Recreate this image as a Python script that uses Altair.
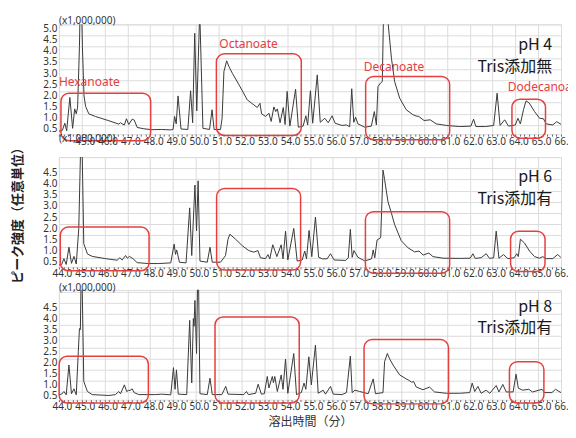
import altair as alt
import pandas as pd

# ---------------- data (retention time in min, intensity x1,000,000) ----------------
# Panel 1: pH 4, Tris 添加無
t1 = [44.00, 44.15, 44.26, 44.34, 44.48, 44.60, 44.69, 44.76, 44.82, 44.90, 44.96, 45.03, 45.10, 45.17,
      45.31, 45.60, 46.19, 46.62, 46.70, 46.77, 46.87, 46.96, 47.06, 47.21, 47.30, 47.43, 47.72, 48.08,
      48.50, 48.90, 49.00, 49.07, 49.14, 49.22, 49.35, 49.65, 49.77, 49.86, 49.95, 50.04, 50.17, 50.31,
      50.60, 50.71, 50.80, 51.08, 51.15, 51.23, 51.35, 51.45, 51.60, 51.89, 52.25, 52.69, 52.81, 52.88,
      53.06, 53.20, 53.30, 53.42, 53.50, 53.57, 53.69, 53.83, 53.91, 54.00, 54.12, 54.37, 54.49, 54.70,
      54.82, 54.90, 55.02, 55.12, 55.32, 55.45, 55.65, 55.80, 55.97, 56.10, 56.40, 56.60, 56.74, 56.83,
      56.92, 57.00, 57.10, 57.40, 57.69, 57.82, 57.91, 57.98, 58.09, 58.17, 58.25, 58.42, 58.57, 58.71,
      58.93, 59.22, 59.51, 59.65, 59.77, 60.00, 60.27, 60.53, 60.97, 61.56, 62.05, 62.17, 62.27, 62.70,
      63.05, 63.20, 63.33, 63.53, 63.70, 64.00, 64.11, 64.22, 64.36, 64.47, 64.61, 64.84, 65.06, 65.23,
      65.35, 65.64, 65.81, 66.00]
v1 = [0.22, 0.26, 0.58, 0.24, 1.73, 0.35, 1.22, 1.00, 1.30, 4.00, 7.50, 4.00, 1.80, 1.33,
      1.00, 0.88, 0.69, 0.54, 0.60, 0.55, 0.50, 0.78, 0.52, 0.76, 0.72, 0.39, 0.33, 0.29,
      0.30, 0.28, 0.30, 0.88, 0.55, 1.80, 0.32, 0.30, 2.03, 0.60, 4.60, 1.13, 5.60, 0.35,
      0.30, 1.18, 0.30, 0.30, 0.80, 2.89, 3.37, 3.11, 2.81, 2.30, 1.63, 1.28, 1.47, 1.00,
      0.88, 1.03, 0.66, 1.31, 1.10, 1.22, 0.60, 1.28, 0.52, 2.00, 0.45, 2.10, 0.40, 0.45,
      0.91, 0.50, 2.03, 0.58, 2.74, 0.62, 0.80, 0.60, 0.91, 0.58, 0.48, 0.50, 0.42, 2.12,
      0.62, 0.85, 0.55, 0.40, 0.45, 1.10, 0.50, 2.22, 2.37, 2.44, 7.00, 5.10, 3.48, 2.44,
      1.70, 1.18, 0.96, 0.90, 0.88, 0.70, 0.73, 0.55, 0.48, 0.43, 0.45, 0.76, 0.43, 0.43,
      0.48, 1.92, 0.48, 0.73, 0.45, 0.50, 0.80, 0.55, 1.20, 1.58, 1.48, 1.10, 0.80, 0.78,
      0.55, 0.50, 0.65, 0.53]

# Panel 2: pH 6, Tris 添加有
t2 = [44.00, 44.12, 44.22, 44.32, 44.44, 44.55, 44.66, 44.76, 44.87, 44.93, 44.99, 45.04, 45.09, 45.25,
      45.46, 46.04, 46.55, 46.67, 46.77, 46.92, 47.00, 47.09, 47.24, 47.43, 47.94, 48.37, 48.90, 49.05,
      49.11, 49.16, 49.28, 49.57, 49.73, 49.82, 49.96, 50.03, 50.10, 50.18, 50.50, 50.62, 50.72, 51.08,
      51.23, 51.30, 51.41, 51.49, 51.74, 52.03, 52.32, 52.54, 52.72, 52.83, 53.05, 53.16, 53.24, 53.37,
      53.46, 53.55, 53.74, 53.82, 53.93, 54.03, 54.29, 54.44, 54.66, 54.77, 54.85, 54.96, 55.08, 55.24,
      55.38, 55.55, 55.75, 55.90, 56.06, 56.57, 56.68, 56.77, 56.85, 56.93, 57.10, 57.40, 57.70, 57.77,
      57.84, 57.94, 58.10, 58.20, 58.27, 58.42, 58.57, 58.71, 59.00, 59.30, 59.59, 59.78, 59.96, 60.21,
      60.39, 60.83, 61.56, 62.02, 62.14, 62.24, 62.50, 62.72, 62.87, 63.05, 63.16, 63.28, 63.48, 63.67,
      63.95, 64.06, 64.13, 64.22, 64.40, 64.62, 64.84, 65.06, 65.20, 65.35, 65.64, 65.86, 66.00]
v2 = [0.17, 0.20, 0.46, 0.20, 0.97, 0.25, 0.56, 0.22, 1.80, 4.50, 7.00, 4.00, 1.13, 0.67,
      0.56, 0.46, 0.39, 0.50, 0.40, 0.60, 0.48, 0.56, 0.46, 0.28, 0.24, 0.24, 0.27, 1.11,
      0.65, 0.85, 0.30, 0.27, 2.73, 0.60, 3.75, 1.70, 3.94, 0.35, 0.30, 0.97, 0.30, 0.30,
      0.50, 0.60, 1.33, 1.55, 1.33, 1.04, 0.82, 0.75, 0.82, 0.50, 0.46, 0.64, 0.45, 1.08,
      0.82, 0.55, 1.08, 0.45, 1.69, 0.40, 1.81, 0.35, 0.40, 0.80, 0.45, 1.72, 0.55, 2.32,
      0.52, 0.45, 0.45, 0.68, 0.40, 0.38, 0.50, 1.77, 0.52, 0.82, 0.52, 0.36, 0.45, 0.85,
      0.50, 1.29, 1.40, 4.42, 4.00, 3.00, 2.49, 1.98, 1.26, 0.94, 0.76, 0.80, 0.62, 0.71,
      0.55, 0.48, 0.47, 0.48, 0.68, 0.47, 0.50, 0.68, 0.47, 0.50, 1.69, 0.48, 0.64, 0.46,
      0.50, 0.68, 0.55, 1.33, 1.16, 0.80, 0.55, 0.48, 0.55, 0.46, 0.46, 0.65, 0.50]

# Panel 3: pH 8, Tris 添加有
t3 = [44.00, 44.12, 44.22, 44.32, 44.44, 44.55, 44.66, 44.76, 44.85, 44.90, 44.94, 44.99, 45.04, 45.09,
      45.25, 45.46, 46.19, 46.48, 46.62, 46.70, 46.87, 46.97, 47.05, 47.12, 47.21, 47.30, 47.50, 48.23,
      48.50, 48.90, 49.02, 49.09, 49.15, 49.23, 49.60, 49.73, 49.82, 49.89, 49.92, 49.96, 50.03, 50.10,
      50.18, 50.50, 50.62, 50.72, 51.14, 51.31, 51.41, 52.10, 52.22, 52.30, 52.62, 52.73, 52.87, 53.00,
      53.13, 53.20, 53.35, 53.40, 53.46, 53.57, 53.74, 53.82, 53.93, 54.03, 54.29, 54.41, 54.62, 54.74,
      54.82, 54.95, 55.06, 55.24, 55.36, 55.58, 55.68, 55.90, 56.02, 56.40, 56.60, 56.77, 56.85, 56.97,
      57.18, 57.55, 57.77, 57.87, 58.20, 58.27, 58.39, 58.49, 58.64, 58.93, 59.22, 59.35, 59.45, 59.54,
      59.66, 59.95, 60.24, 60.46, 60.97, 61.56, 62.00, 62.11, 62.22, 62.36, 62.50, 62.72, 62.88, 63.16,
      63.28, 63.45, 63.60, 63.90, 64.03, 64.13, 64.32, 64.59, 64.75, 65.17, 65.27, 65.60, 65.76, 66.00]
v3 = [0.36, 0.38, 0.50, 0.35, 1.70, 0.40, 0.62, 0.35, 2.30, 3.35, 3.30, 7.00, 4.00, 0.95,
      0.50, 0.36, 0.32, 0.36, 0.50, 0.40, 0.80, 0.50, 0.55, 0.55, 0.62, 0.45, 0.36, 0.36,
      0.38, 0.35, 1.58, 0.60, 1.48, 0.38, 0.36, 3.72, 0.89, 3.80, 3.45, 4.62, 2.22, 7.00,
      0.40, 0.36, 1.10, 0.36, 0.36, 0.73, 0.38, 0.36, 0.50, 0.36, 0.42, 0.83, 0.38, 0.40,
      1.18, 0.66, 1.18, 0.90, 1.18, 0.50, 1.25, 0.60, 1.97, 0.42, 2.22, 0.36, 0.45, 0.88,
      0.60, 2.07, 0.80, 2.60, 0.42, 0.56, 0.38, 0.73, 0.38, 0.36, 0.45, 2.10, 0.45, 0.56,
      0.50, 0.40, 1.07, 0.40, 0.45, 1.85, 2.22, 1.98, 1.70, 1.25, 1.07, 1.00, 0.92, 0.95,
      0.70, 0.58, 0.70, 0.48, 0.42, 0.42, 0.45, 0.88, 0.50, 0.73, 0.42, 0.56, 0.42, 0.77,
      0.48, 0.82, 0.48, 0.48, 1.28, 0.65, 0.56, 0.60, 0.48, 0.60, 0.45, 0.45, 0.60, 0.45]

# highlight boxes (start/end time, bottom/top intensity) for Hexanoate, Octanoate, Decanoate, Dodecanoate
box_t_start = [[44.09, 50.90, 57.44, 63.85], [44.06, 50.91, 57.43, 63.79], [44.01, 50.84, 57.37, 63.74]]
box_t_end = [[48.02, 54.62, 61.12, 65.32], [47.95, 54.59, 61.12, 65.30], [47.92, 54.53, 61.07, 65.25]]
box_v_low = [[-0.20, 0.03, -0.16, -0.09], [-0.08, -0.05, -0.19, -0.12], [-0.02, -0.02, -0.06, -0.02]]
box_v_high = [[1.92, 3.68, 2.67, 1.65], [1.87, 3.60, 2.56, 1.69], [2.10, 3.87, 2.85, 1.85]]

acid_labels = ["Hexanoate", "Octanoate", "Decanoate", "Dodecanoate"]
acid_t = [44.00, 52.31, 58.68, 63.67]
acid_v = [2.42, 4.12, 3.09, 2.18]
acid_align = ["left", "center", "center", "left"]

cond_ph = ["pH 4", "pH 6", "pH 8"]
cond_tris = ["Tris添加無", "Tris添加有", "Tris添加有"]
cond_t = 65.61
cond_v_ph = [4.09, 4.11, 4.32]
cond_v_tris = [3.09, 3.11, 3.36]

y_domains = [[0.09, 5.0], [0.09, 5.0], [0.13, 5.1]]
x_ticks = [round(44 + 0.2 * i, 1) for i in range(111)]
y_ticks = [0.5, 1.0, 1.5, 2.0, 2.5, 3.0, 3.5, 4.0, 4.5, 5.0]

LINE = "#3a3a3a"
RED = "#e5403f"
GRID = "#dcdcdc"
FONT = "Noto Sans"
JFONT = "Noto Sans CJK JP"


def panel(i, t, v):
    first_label = 45 if i == 0 else 44
    max_label = 5.0 if i == 0 else 4.5
    x_axis = alt.Axis(
        values=x_ticks, tickCount=len(x_ticks),
        labelExpr=f"(datum.value % 1 === 0 && datum.value >= {first_label}) ? format(datum.value, '.1f') : ''",
        labelOverlap=False, labelFlush=False, labelFont=FONT, labelFontSize=10, labelColor="#333",
        labelPadding=0, labelOffset=3, tickSize=2, tickColor="#666", domain=False,
        grid=True, gridColor=GRID,
        gridOpacity={"condition": {"test": "datum.value % 1 === 0", "value": 1}, "value": 0},
        title="溶出時間（分）" if i == 2 else None,
        titleFont=JFONT, titleFontSize=12, titleFontWeight="normal", titleColor="#333", titlePadding=5,
    )
    y_axis = alt.Axis(
        values=y_ticks, tickCount=len(y_ticks),
        labelExpr=f"datum.value <= {max_label} ? format(datum.value, '.1f') : ''",
        labelOverlap=False, labelFlush=False, labelFont=FONT, labelFontSize=10, labelColor="#333",
        labelPadding=2, labelOffset=4, ticks=False, domain=False,
        grid=True, gridColor=GRID,
        title="ピーク強度（任意単位）" if i == 1 else None,
        titleFont=JFONT, titleFontSize=13, titleFontWeight="bold", titleColor="#222", titlePadding=18,
    )
    xs = alt.Scale(domain=[44, 66], nice=False, zero=False)
    ys = alt.Scale(domain=y_domains[i], nice=False, zero=False)

    df = pd.DataFrame({"t": t, "v": v})
    line = alt.Chart(df).mark_line(clip=True, color=LINE, strokeWidth=1).encode(
        x=alt.X("t:Q", scale=xs, axis=x_axis),
        y=alt.Y("v:Q", scale=ys, axis=y_axis),
    )

    dfb = pd.DataFrame({"t": box_t_start[i], "t2": box_t_end[i], "v": box_v_low[i], "v2": box_v_high[i]})
    boxes = alt.Chart(dfb).mark_rect(fillOpacity=0, stroke=RED, strokeWidth=1.5, cornerRadius=8).encode(
        x=alt.X("t:Q", scale=xs), x2="t2:Q", y=alt.Y("v:Q", scale=ys), y2="v2:Q"
    )

    layers = [line, boxes]

    if i == 0:
        dfa = pd.DataFrame({"t": acid_t, "v": acid_v, "label": acid_labels, "align": acid_align})
        for al in ["left", "center"]:
            sub = dfa[dfa["align"] == al]
            layers.append(
                alt.Chart(sub).mark_text(align=al, baseline="middle", color=RED, font=FONT, fontSize=12).encode(
                    x=alt.X("t:Q", scale=xs), y=alt.Y("v:Q", scale=ys), text="label:N"
                )
            )

    dfc = pd.DataFrame({"t": [cond_t, cond_t], "v": [cond_v_ph[i], cond_v_tris[i]],
                        "label": [cond_ph[i], cond_tris[i]]})
    layers.append(
        alt.Chart(dfc).mark_text(align="right", baseline="middle", color="#1a1a1a", font=JFONT, fontSize=16).encode(
            x=alt.X("t:Q", scale=xs), y=alt.Y("v:Q", scale=ys), text="label:N"
        )
    )

    return alt.layer(*layers).properties(
        width=503, height=110,
        title=alt.TitleParams("(x1,000,000)", anchor="start", frame="group", offset=-3,
                              font=FONT, fontSize=10, fontWeight="normal", color="#333"),
    )


chart = alt.vconcat(
    panel(0, t1, v1), panel(1, t2, v2), panel(2, t3, v3), spacing=23, bounds="flush"
).properties(
    padding={"left": 3, "top": 7, "right": -16, "bottom": 0}
).configure_view(
    stroke="#8a8a8a", strokeWidth=1
).configure(background="white")

chart.save("out.html", embed_options={"renderer": "svg", "actions": False})
